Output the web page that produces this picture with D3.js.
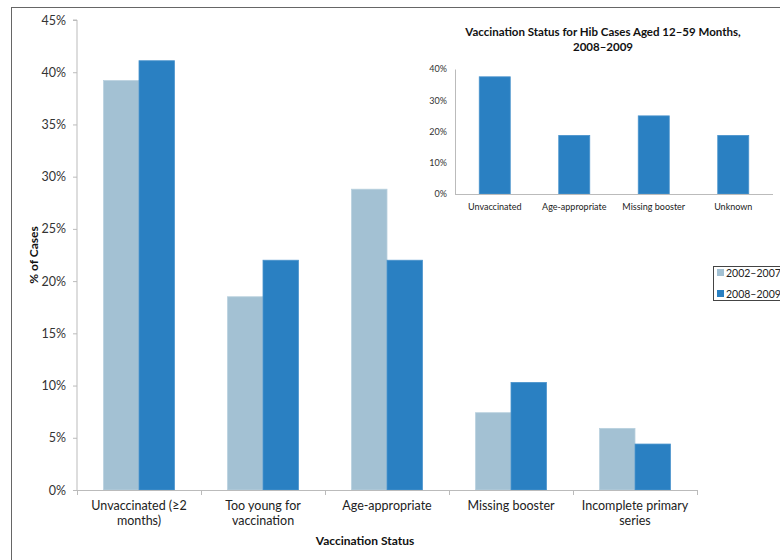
<!DOCTYPE html>
<html><head><meta charset="utf-8">
<script src="https://cdn.jsdelivr.net/npm/d3@7"></script>
<style>
html,body{margin:0;padding:0;background:#fff;}
svg{display:block;font-family:Lato,"Open Sans",sans-serif;}
</style></head>
<body>
<svg id="chart" width="780" height="560"></svg>
<script>
// Main chart data: share of Hib cases by vaccination status
const categories = ["Unvaccinated (≥2 months)", "Too young for vaccination", "Age-appropriate", "Missing booster", "Incomplete primary series"];
const categoryLines = [["Unvaccinated (≥2", "months)"], ["Too young for", "vaccination"], ["Age-appropriate"], ["Missing booster"], ["Incomplete primary", "series"]];
const seriesNames = ["2002–2007", "2008–2009"];
const values2002_2007 = [39.2, 18.5, 28.8, 7.4, 5.9];
const values2008_2009 = [41.1, 22.0, 22.0, 10.3, 4.4];
const yTicks = [0, 5, 10, 15, 20, 25, 30, 35, 40, 45];

// Inset data: cases aged 12–59 months, 2008–2009
const insetCategories = ["Unvaccinated", "Age-appropriate", "Missing booster", "Unknown"];
const insetValues = [37.5, 18.75, 25, 18.75];
const insetTicks = [0, 10, 20, 30, 40];

const colors = ["#a3c1d3", "#2a80c2"];
const svg = d3.select("#chart");

// outer frame
svg.append("rect").attr("x", 11.5).attr("y", 7.5).attr("width", 800).attr("height", 600)
  .attr("fill", "none").attr("stroke", "#666").attr("stroke-width", 1);

// ---- main chart ----
const m = {left: 77, right: 697, top: 20, bottom: 490};
const x0 = d3.scaleBand().domain(categories).range([m.left, m.right]).paddingInner(0).paddingOuter(0);
const x1 = d3.scaleBand().domain(seriesNames).range([0, x0.bandwidth()]).paddingOuter(0.75).paddingInner(0);
const y = d3.scaleLinear().domain([0, 45]).range([m.bottom, m.top]);

const yAxis = d3.axisLeft(y).tickValues(yTicks).tickFormat(d => d + "%").tickSize(4).tickPadding(7);
const gy = svg.append("g").attr("transform", `translate(${m.left},0)`).call(yAxis);
gy.select(".domain").attr("stroke", "#bbb").attr("d", `M-4,${m.top}H0V${m.bottom}`);
gy.selectAll(".tick line").attr("stroke", "#bbb");
gy.selectAll(".tick text").attr("font-size", 12.5).attr("fill", "#333").attr("font-family", "Lato, sans-serif");

// bars
const series = [values2002_2007, values2008_2009];
series.forEach((vals, si) => {
  svg.append("g").selectAll("rect").data(vals).join("rect")
    .attr("x", (d, i) => x0(categories[i]) + x1(seriesNames[si]))
    .attr("width", x1.bandwidth())
    .attr("y", d => y(d))
    .attr("height", d => y(0) - y(d))
    .attr("fill", colors[si])
    .attr("stroke", si === 0 ? "#b8d0de" : "#4a93cc").attr("stroke-width", 0.8);
});

// x axis line + boundary ticks
const gx = svg.append("g");
gx.append("line").attr("x1", m.left - 4).attr("x2", m.right).attr("y1", m.bottom + 0.5).attr("y2", m.bottom + 0.5)
  .attr("stroke", "#bbb");
const bounds = categories.map(c => x0(c)).concat([m.right]);
gx.selectAll(".bt").data(bounds).join("line")
  .attr("x1", d => Math.round(d) + 0.5).attr("x2", d => Math.round(d) + 0.5)
  .attr("y1", m.bottom).attr("y2", m.bottom + 5).attr("stroke", "#bbb");

// category labels
categories.forEach((c, i) => {
  const t = svg.append("text").attr("x", x0(c) + x0.bandwidth() / 2).attr("y", 510)
    .attr("text-anchor", "middle").attr("font-size", 12.5).attr("fill", "#222");
  categoryLines[i].forEach((line, li) => {
    t.append("tspan").attr("x", x0(c) + x0.bandwidth() / 2).attr("dy", li === 0 ? 0 : 15).text(line);
  });
});

// axis titles
svg.append("text").attr("x", 365).attr("y", 545).attr("text-anchor", "middle")
  .attr("font-size", 12).attr("font-weight", "bold").attr("fill", "#111").text("Vaccination Status");
svg.append("text").attr("transform", "translate(38,255) rotate(-90)").attr("text-anchor", "middle")
  .attr("font-size", 12).attr("font-weight", "bold").attr("fill", "#111").text("% of Cases");

// legend
const lg = svg.append("g");
lg.append("rect").attr("x", 713.5).attr("y", 266.5).attr("width", 100).attr("height", 34)
  .attr("fill", "#fff").attr("stroke", "#444");
seriesNames.forEach((s, i) => {
  lg.append("rect").attr("x", 717).attr("y", 269 + i * 21).attr("width", 7).attr("height", 7).attr("fill", colors[i]);
  lg.append("text").attr("x", 726).attr("y", 277 + i * 21).attr("font-size", 10.5).attr("fill", "#222").text(s);
});

// ---- inset chart ----
const im = {left: 455, right: 773, top: 69, bottom: 194};
const ix = d3.scaleBand().domain(insetCategories).range([im.left, im.right]).paddingInner(0.61).paddingOuter(0.305);
const iy = d3.scaleLinear().domain([0, 40]).range([im.bottom, im.top]);

svg.append("text").attr("x", 603).attr("y", 36).attr("text-anchor", "middle")
  .attr("font-size", 11.5).attr("font-weight", "bold").attr("fill", "#111")
  .text("Vaccination Status for Hib Cases Aged 12–59 Months,");
svg.append("text").attr("x", 603).attr("y", 51).attr("text-anchor", "middle")
  .attr("font-size", 11.5).attr("font-weight", "bold").attr("fill", "#111").text("2008–2009");

const iyAxis = d3.axisLeft(iy).tickValues(insetTicks).tickFormat(d => d + "%").tickSize(0).tickPadding(8);
const giy = svg.append("g").attr("transform", `translate(${im.left},0)`).call(iyAxis);
giy.select(".domain").attr("stroke", "#bbb");
giy.selectAll(".tick text").attr("font-size", 9).attr("fill", "#333").attr("font-family", "Lato, sans-serif");

svg.append("g").selectAll("rect").data(insetValues).join("rect")
  .attr("x", (d, i) => ix(insetCategories[i])).attr("width", ix.bandwidth())
  .attr("y", d => iy(d)).attr("height", d => iy(0) - iy(d))
  .attr("fill", colors[1]).attr("stroke", "#4a93cc").attr("stroke-width", 0.8);

svg.append("line").attr("x1", im.left).attr("x2", im.right).attr("y1", im.bottom + 0.5).attr("y2", im.bottom + 0.5)
  .attr("stroke", "#bbb");

svg.append("g").selectAll("text").data(insetCategories).join("text")
  .attr("x", d => ix(d) + ix.bandwidth() / 2).attr("y", 210).attr("text-anchor", "middle")
  .attr("font-size", 9).attr("fill", "#222").text(d => d);
</script>
</body></html>
